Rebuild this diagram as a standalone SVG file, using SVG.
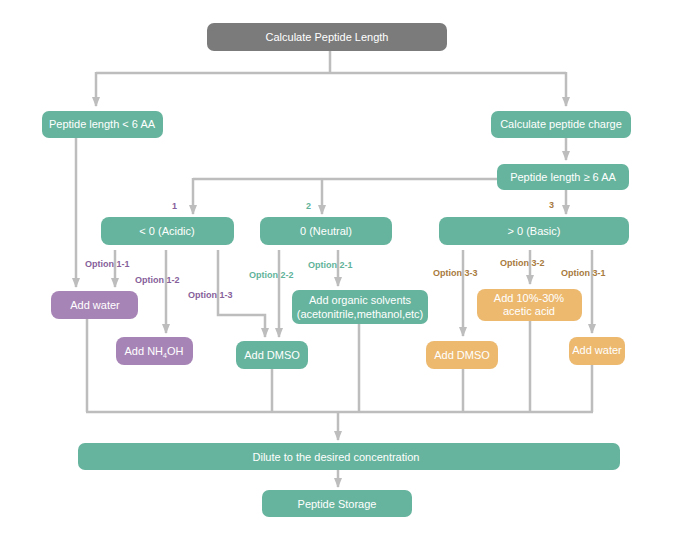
<svg xmlns="http://www.w3.org/2000/svg" width="700" height="539" viewBox="0 0 700 539">
<defs>
<marker id="ah" markerWidth="10" markerHeight="8" refX="9" refY="4" orient="auto" markerUnits="userSpaceOnUse"><path d="M0,0 L10,4 L0,8 z" fill="#bdbdbd"/></marker>
<style>
.c{fill:none;stroke:#bdbdbd;stroke-width:2.5}
.a{marker-end:url(#ah)}
.g{fill:#66b49d}.p{fill:#a784b6}.o{fill:#ecb96f}.k{fill:#7b7b7b}
text{font-family:"Liberation Sans",Arial,sans-serif}
.t{fill:#fff;font-size:11px;text-anchor:middle}
.l{font-size:9px;font-weight:bold}
.lp{fill:#86609a}.lg{fill:#5fb39a}.lo{fill:#a87a40}
</style>
</defs>
<rect width="700" height="539" fill="#fff"/>
<g id="connectors">
<path class="c" d="M330,51 V73 M96,73 H566"/>
<path class="c a" d="M96,72 V106"/>
<path class="c a" d="M566,72 V106"/>
<path class="c a" d="M566,138 V160"/>
<path class="c" d="M497,179 H193"/>
<path class="c a" d="M193,178 V214"/>
<path class="c a" d="M322,178 V214"/>
<path class="c a" d="M566,190 V214"/>
<path class="c a" d="M76,138 V287"/>
<path class="c a" d="M115,250 V287"/>
<path class="c a" d="M166,250 V333"/>
<path class="c a" d="M218,250 V315 H265 V337"/>
<path class="c a" d="M279,250 V337"/>
<path class="c a" d="M338,250 V286"/>
<path class="c a" d="M463,250 V336"/>
<path class="c a" d="M530,250 V284"/>
<path class="c a" d="M592,250 V333"/>
<path class="c" d="M87,319 V412 M272,369 V412 M359,324 V412 M463,369 V412 M530,321 V412 M592,365 V412 M86,412 H593"/>
<path class="c a" d="M338,411 V440"/>
<path class="c a" d="M338,470 V487"/>
</g>
<g id="labels">
<text class="l lp" x="172" y="209" font-size="10">1</text>
<text class="l lg" x="306" y="209" font-size="10">2</text>
<text class="l lo" x="549" y="208" font-size="10">3</text>
<text class="l lp" x="85" y="267">Option 1-1</text>
<text class="l lp" x="135" y="283">Option 1-2</text>
<text class="l lp" x="188" y="298">Option 1-3</text>
<text class="l lg" x="249" y="278">Option 2-2</text>
<text class="l lg" x="308" y="268">Option 2-1</text>
<text class="l lo" x="433" y="276">Option 3-3</text>
<text class="l lo" x="500" y="266">Option 3-2</text>
<text class="l lo" x="561" y="276">Option 3-1</text>
</g>
<g id="n-calc"><rect class="k" x="207" y="23" width="240" height="28" rx="7"/><text class="t" x="327" y="41">Calculate Peptide Length</text></g>
<g id="n-lt6"><rect class="g" x="42" y="111" width="121" height="27" rx="7"/><text class="t" x="102" y="128">Peptide length &lt; 6 AA</text></g>
<g id="n-charge"><rect class="g" x="491" y="111" width="140" height="27" rx="7"/><text class="t" x="561" y="128">Calculate peptide charge</text></g>
<g id="n-ge6"><rect class="g" x="497" y="164" width="132" height="26" rx="7"/><text class="t" x="563" y="181">Peptide length ≥ 6 AA</text></g>
<g id="n-acidic"><rect class="g" x="101" y="217" width="133" height="28" rx="8"/><text class="t" x="167" y="235">&lt; 0 (Acidic)</text></g>
<g id="n-neutral"><rect class="g" x="260" y="217" width="132" height="28" rx="8"/><text class="t" x="326" y="235">0 (Neutral)</text></g>
<g id="n-basic"><rect class="g" x="439" y="217" width="190" height="28" rx="8"/><text class="t" x="534" y="235">&gt; 0 (Basic)</text></g>
<g id="n-water1"><rect class="p" x="51" y="291" width="87" height="28" rx="8"/><text class="t" x="95" y="309">Add water</text></g>
<g id="n-nh4oh"><rect class="p" x="116" y="337" width="77" height="28" rx="8"/><text class="t" x="154" y="355">Add NH<tspan font-size="7" dy="3">4</tspan><tspan dy="-3">OH</tspan></text></g>
<g id="n-dmso2"><rect class="g" x="236" y="341" width="72" height="28" rx="8"/><text class="t" x="272" y="359">Add DMSO</text></g>
<g id="n-organic"><rect class="g" x="292" y="290" width="136" height="34" rx="7"/><text class="t" x="360" y="304">Add organic solvents</text><text class="t" x="360" y="318">(acetonitrile,methanol,etc)</text></g>
<g id="n-dmso3"><rect class="o" x="426" y="341" width="72" height="28" rx="8"/><text class="t" x="462" y="359">Add DMSO</text></g>
<g id="n-acetic"><rect class="o" x="477" y="289" width="105" height="32" rx="8"/><text class="t" x="529" y="302">Add 10%-30%</text><text class="t" x="529" y="315">acetic acid</text></g>
<g id="n-water3"><rect class="o" x="569" y="337" width="56" height="28" rx="8"/><text class="t" x="597" y="354">Add water</text></g>
<g id="n-dilute"><rect class="g" x="78" y="443" width="542" height="27" rx="7"/><text class="t" x="336" y="461">Dilute to the desired concentration</text></g>
<g id="n-storage"><rect class="g" x="262" y="490" width="150" height="27" rx="7"/><text class="t" x="337" y="508">Peptide Storage</text></g>
</svg>
